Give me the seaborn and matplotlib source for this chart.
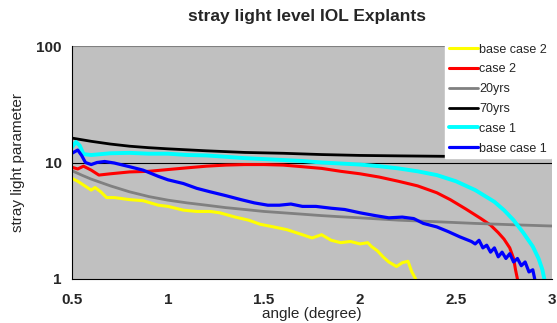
import numpy as np
import pandas as pd
import matplotlib
matplotlib.use('Agg')
import matplotlib.pyplot as plt
import seaborn as sns

# values (angle in degrees, stray light parameter)
base2_x = [0.5, 0.53, 0.56, 0.6, 0.62, 0.65, 0.68, 0.72, 0.8, 0.87, 0.95, 1.0, 1.08, 1.15,
           1.22, 1.27, 1.35, 1.42, 1.48, 1.55, 1.62, 1.7, 1.75, 1.8, 1.85, 1.9, 1.95, 2.0,
           2.04, 2.06, 2.09, 2.12, 2.15, 2.19, 2.22, 2.25, 2.27, 2.29]
base2_y = [7.3, 6.9, 6.4, 5.8, 6.1, 5.6, 5.0, 5.0, 4.8, 4.7, 4.3, 4.2, 3.9, 3.8,
           3.8, 3.7, 3.4, 3.2, 2.95, 2.8, 2.65, 2.4, 2.25, 2.4, 2.15, 2.05, 2.1, 2.0,
           2.05, 1.9, 1.75, 1.55, 1.4, 1.28, 1.38, 1.42, 1.15, 1.0]

case2_x = [0.5, 0.53, 0.56, 0.6, 0.64, 0.7, 0.8, 0.9, 1.0, 1.1, 1.2, 1.3, 1.4, 1.5, 1.6,
           1.7, 1.8, 1.9, 2.0, 2.1, 2.2, 2.3, 2.4, 2.47, 2.55, 2.63, 2.68, 2.72, 2.75,
           2.78, 2.8, 2.81, 2.82]
case2_y = [9.1, 8.8, 9.3, 8.6, 7.8, 8.0, 8.3, 8.4, 8.7, 9.0, 9.3, 9.5, 9.6, 9.6, 9.5,
           9.2, 8.9, 8.4, 8.0, 7.5, 6.9, 6.3, 5.5, 4.8, 4.0, 3.3, 2.9, 2.5, 2.2,
           1.85, 1.5, 1.2, 1.0]

yrs20_x = [0.5, 0.55, 0.6, 0.7, 0.8, 0.9, 1.0, 1.1, 1.2, 1.3, 1.4, 1.5, 1.6, 1.7, 1.8,
           1.9, 2.0, 2.2, 2.4, 2.6, 2.8, 3.0]
yrs20_y = [8.5, 7.8, 7.2, 6.3, 5.6, 5.1, 4.75, 4.5, 4.3, 4.1, 3.95, 3.8, 3.7, 3.6, 3.5,
           3.42, 3.35, 3.2, 3.1, 3.0, 2.92, 2.85]

yrs70_x = [0.5, 0.6, 0.7, 0.8, 0.9, 1.0, 1.2, 1.4, 1.6, 1.8, 2.0, 2.2, 2.44, 2.7, 3.0]
yrs70_y = [16.2, 15.2, 14.4, 13.8, 13.4, 13.1, 12.6, 12.2, 12.0, 11.7, 11.5, 11.4, 11.3,
           11.2, 11.1]

case1_x = [0.5, 0.52, 0.54, 0.56, 0.6, 0.7, 0.8, 0.9, 1.0, 1.1, 1.2, 1.3, 1.4, 1.5, 1.6,
           1.7, 1.8, 1.9, 2.0, 2.1, 2.2, 2.3, 2.4, 2.5, 2.6, 2.7, 2.75, 2.8, 2.85, 2.9,
           2.93, 2.95, 2.96]
case1_y = [13.5, 15.0, 14.0, 11.8, 11.6, 12.0, 12.1, 11.9, 11.9, 11.6, 11.5, 11.2, 10.9,
           10.7, 10.5, 10.3, 10.0, 9.8, 9.6, 9.3, 8.9, 8.4, 7.8, 6.9, 5.8, 4.6, 3.9, 3.2,
           2.5, 1.9, 1.5, 1.2, 1.0]

base1_x = [0.5, 0.53, 0.55, 0.57, 0.6, 0.63, 0.67, 0.72, 0.8, 0.87, 0.95, 1.0, 1.08, 1.15,
           1.22, 1.3, 1.38, 1.45, 1.52, 1.58, 1.64, 1.7, 1.77, 1.85, 1.92, 2.0, 2.08, 2.15,
           2.22, 2.28, 2.33, 2.4, 2.46, 2.52, 2.58, 2.6, 2.62, 2.64, 2.66, 2.68, 2.7, 2.72,
           2.74, 2.76, 2.78, 2.8, 2.82, 2.84, 2.86, 2.88, 2.9, 2.91]
base1_y = [12.0, 12.8, 11.5, 10.0, 9.6, 10.0, 10.2, 9.9, 9.2, 8.6, 7.6, 7.1, 6.6, 6.0,
           5.6, 5.2, 4.8, 4.5, 4.3, 4.3, 4.4, 4.2, 4.2, 4.05, 3.95, 3.7, 3.5, 3.35,
           3.4, 3.3, 3.0, 2.8, 2.55, 2.3, 2.1, 2.0, 2.15, 1.85, 1.95, 1.7, 1.85, 1.55,
           1.7, 1.5, 1.65, 1.4, 1.5, 1.3, 1.4, 1.15, 1.2, 1.0]

series = [
    ('base case 2', base2_x, base2_y, '#FFFF00', 2.2),
    ('case 2', case2_x, case2_y, '#FF0000', 2.2),
    ('20yrs', yrs20_x, yrs20_y, '#808080', 2.0),
    ('70yrs', yrs70_x, yrs70_y, '#000000', 2.0),
    ('case 1', case1_x, case1_y, '#00FFFF', 2.8),
    ('base case 1', base1_x, base1_y, '#0000FF', 2.3),
]

sns.set_style('white')
plt.rcParams['font.family'] = ['Liberation Sans', 'DejaVu Sans']

fig = plt.figure(figsize=(5.57, 3.23), dpi=100)
ax = fig.add_axes([72 / 557, 1 - 279 / 323, 480 / 557, 233 / 323])
ax.set_facecolor('#C0C0C0')

for name, xs, ys, col, lw in series:
    df = pd.DataFrame({'angle': xs, 'value': ys})
    sns.lineplot(data=df, x='angle', y='value', color=col, linewidth=lw, label=name,
                 ax=ax, legend=False)

ax.set_yscale('log')
ax.set_ylim(1, 100)
ax.set_xlim(0.5, 3)
ax.set_yticks([1, 10, 100])
ax.set_yticklabels(['1', '10', '100'])
ax.set_xticks([0.5, 1, 1.5, 2, 2.5, 3])
ax.set_xticklabels(['0.5', '1', '1.5', '2', '2.5', '3'])
ax.minorticks_off()
ax.axhline(10, color='black', lw=0.8, zorder=1)
ax.axhline(100, color='#808080', lw=0.8, zorder=1)

for s in ['top', 'right']:
    ax.spines[s].set_visible(False)
for s in ['left', 'bottom']:
    ax.spines[s].set_color('black')
    ax.spines[s].set_linewidth(0.8)
ax.tick_params(axis='both', direction='out', length=4, width=0.8, color='black',
               labelsize=11)
for lab in ax.get_xticklabels() + ax.get_yticklabels():
    lab.set_fontweight('bold')
ax.tick_params(axis='x', pad=6)

ax.set_xlabel('angle (degree)', fontsize=11, labelpad=0)
ax.set_ylabel('stray light parameter', fontsize=11, labelpad=8)
fig.text(0.552, 1 - 17 / 323, 'stray light level IOL Explants', ha='center', va='center',
         fontsize=12.5, fontweight='bold')

handles, labels = ax.get_legend_handles_labels()
leg = fig.legend(handles, labels, loc='upper left',
                 bbox_to_anchor=(445 / 557, 1 - 40 / 323), bbox_transform=fig.transFigure,
                 frameon=True, facecolor='white', edgecolor='white', framealpha=1,
                 fancybox=False, fontsize=9, handlelength=2.3, handletextpad=0.15,
                 labelspacing=0.62, borderpad=0.3, borderaxespad=0)

fig.savefig('out.png', dpi=100)
